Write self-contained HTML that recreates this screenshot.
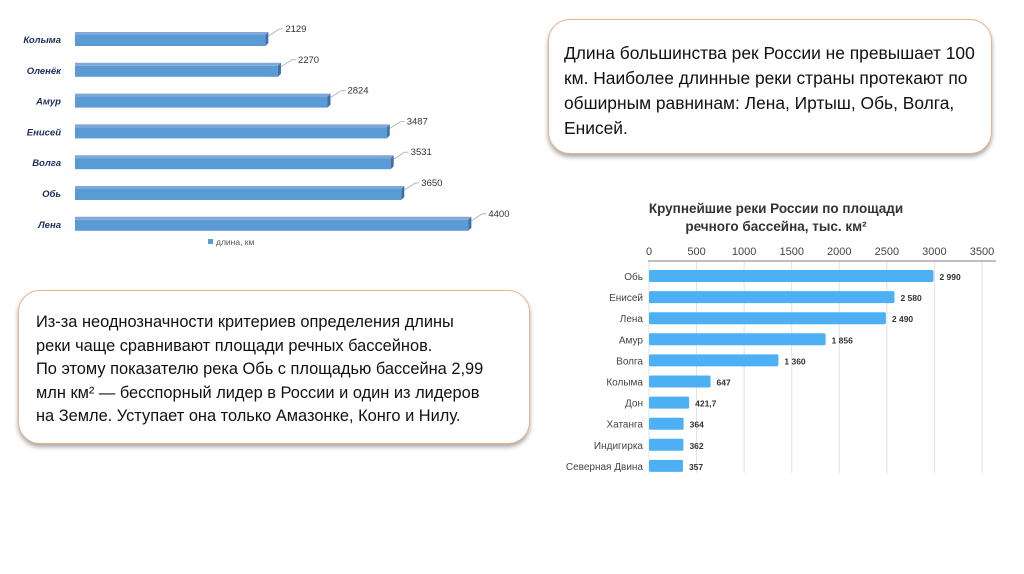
<!DOCTYPE html>
<html><head><meta charset="utf-8"><style>
body{margin:0;width:1024px;height:574px;background:#fff;position:relative;overflow:hidden;font-family:"Liberation Sans","Noto Sans CJK SC",sans-serif}
.box{position:absolute;border:1.5px solid #e8b48a;border-radius:22px;background:#fff;box-shadow:0 3px 5px rgba(0,0,0,0.35);color:#111;box-sizing:border-box}
svg{position:absolute;left:0;top:0}
</style></head><body>
<svg id="c1" width="1024" height="574"></svg>
<div class="box" style="left:548px;top:19px;width:444px;height:135px;padding:21px 6px 0 15px;font-size:17.4px;line-height:25px">Длина большинства рек России не превышает 100 км. Наиболее длинные реки страны протекают по обширным равнинам: Лена, Иртыш, Обь, Волга, Енисей.</div>
<div class="box" style="left:18px;top:290px;width:512px;height:154px;padding:20px 0 0 17px;font-size:16.4px;line-height:23.5px;white-space:nowrap">Из-за неоднозначности критериев определения длины<br>реки чаще сравнивают площади речных бассейнов.<br>По этому показателю река Обь с площадью бассейна 2,99<br>млн км² — бесспорный лидер в России и один из лидеров<br>на Земле. Уступает она только Амазонке, Конго и Нилу.</div>
<script>
const lenCats=["Колыма","Оленёк","Амур","Енисей","Волга","Обь","Лена"];
const lenVals=[2129,2270,2824,3487,3531,3650,4400];
const areaCats=["Обь","Енисей","Лена","Амур","Волга","Колыма","Дон","Хатанга","Индигирка","Северная Двина"];
const areaVals=[2990,2580,2490,1856,1360,647,421.7,364,362,357];
const areaLabels=["2 990","2 580","2 490","1 856","1 360","647","421,7","364","362","357"];
const areaTicks=[0,500,1000,1500,2000,2500,3000,3500];
const NS="http://www.w3.org/2000/svg";
const svg=document.getElementById('c1');
function mk(tag,attrs,txt){const e=document.createElementNS(NS,tag);for(const k in attrs)e.setAttribute(k,attrs[k]);if(txt!==undefined)e.textContent=txt;svg.appendChild(e);return e;}
// chart 1
const x1=v=>75+v*0.0894;
const y1=i=>39+i*30.8;
lenCats.forEach((c,i)=>{
 const y=y1(i),xe=x1(lenVals[i]);
 let t=mk('text',{x:61,y:y+4,'text-anchor':'end','font-size':9.5,'font-weight':'bold','font-style':'italic',fill:'#1f2d5a'},c);
 
 mk('polygon',{points:`${75},${y-7} ${xe+3},${y-7} ${xe},${y-4} ${75},${y-4}`,fill:'#7fa8d8'});
 let r=mk('rect',{x:75,y:y-4,width:xe-75,height:11,fill:'#5b9bd5'});
 
 mk('polygon',{points:`${xe},${y-4} ${xe+3},${y-7} ${xe+3},${y+4} ${xe},${y+7}`,fill:'#3e6fa8'});
 mk('polyline',{points:`${xe+3},${y-3} ${xe+14},${y-10} ${xe+18},${y-10}`,fill:'none',stroke:'#aaa','stroke-width':0.8});
 let l=mk('text',{x:xe+20,y:y-7,'font-size':9.5,fill:'#333'},lenVals[i]);
 
});
let lg=mk('rect',{x:208,y:239,width:5,height:5,fill:'#5b9bd5'});
let lt=mk('text',{x:216,y:245,'font-size':8.5,fill:'#555'},'длина, км');
// chart 2
const x2=v=>649+v*(333/3500);
const y2=i=>276+i*21.1;
let t1=mk('text',{x:776,y:213,'text-anchor':'middle','font-size':13.5,'font-weight':'bold',fill:'#333'},'Крупнейшие реки России по площади');
mk('text',{x:776,y:231,'text-anchor':'middle','font-size':13.5,'font-weight':'bold',fill:'#333'},'речного бассейна, тыс. км²');
areaTicks.forEach(v=>{
 mk('line',{x1:x2(v),x2:x2(v),y1:261,y2:473,stroke:'#e2e2e2','stroke-width':1});
 let t=mk('text',{x:x2(v),y:255,'text-anchor':'middle','font-size':11,fill:'#444'},v);
 
});
mk('line',{x1:648,x2:996,y1:261,y2:261,stroke:'#999','stroke-width':1.3});
areaCats.forEach((c,i)=>{
 const y=y2(i);
 let t=mk('text',{x:643,y:y+4,'text-anchor':'end','font-size':10,fill:'#444'},c);
 
 let r=mk('rect',{x:649,y:y-6,width:x2(areaVals[i])-649,height:12,rx:1.5,fill:'#4db0f5'});
 
 let l=mk('text',{x:x2(areaVals[i])+6,y:y+4,'font-size':8.5,'font-weight':'bold',fill:'#333'},areaLabels[i]);
 
});
</script>
</body></html>
